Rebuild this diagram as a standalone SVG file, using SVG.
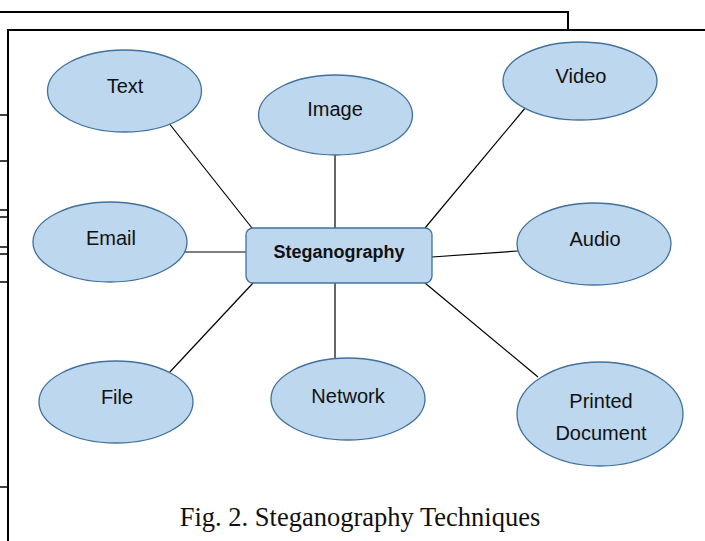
<svg xmlns="http://www.w3.org/2000/svg" width="705" height="541" viewBox="0 0 705 541">
<style>
.node{fill:#bdd7ee;stroke:#41719c;stroke-width:1.3}
.lbl{font-family:"Liberation Sans",Arial,sans-serif;font-size:20px;fill:#111;text-anchor:middle}
.conn line{stroke:#000;stroke-width:1.2}
.frame{stroke:#000;stroke-width:2;fill:none}
</style>
<rect width="705" height="541" fill="#fff"/>
<g id="background">
<path class="frame" d="M0 12H568V30"/>
<path class="frame" d="M8 541V30H705"/>
<g stroke="#000" stroke-width="1.5">
<line x1="0" y1="115" x2="8" y2="115"/>
<line x1="0" y1="161" x2="8" y2="161"/>
<line x1="0" y1="210" x2="8" y2="210"/>
<line x1="0" y1="217" x2="8" y2="217"/>
<line x1="0" y1="247" x2="8" y2="247"/>
<line x1="0" y1="254" x2="8" y2="254"/>
<line x1="0" y1="282" x2="8" y2="282"/>
<line x1="0" y1="487" x2="8" y2="487"/>
</g>
</g>
<g id="connectors" class="conn">
<line x1="168" y1="122" x2="252" y2="228"/>
<line x1="335" y1="155" x2="335" y2="228"/>
<line x1="526" y1="107" x2="425" y2="228"/>
<line x1="185" y1="252" x2="246" y2="252"/>
<line x1="432" y1="257" x2="518" y2="251"/>
<line x1="168" y1="374" x2="253" y2="283"/>
<line x1="335" y1="283" x2="335" y2="358"/>
<line x1="425" y1="283" x2="538" y2="377"/>
</g>
<g id="steganography">
<rect class="node" x="246" y="228" width="186" height="55" rx="7"/>
<text x="339" y="258" font-family="Liberation Sans,Arial,sans-serif" font-size="18" font-weight="bold" text-anchor="middle" fill="#111">Steganography</text>
</g>
<g id="text"><ellipse class="node" cx="124.5" cy="91" rx="77" ry="41"/><text class="lbl" x="125" y="93">Text</text></g>
<g id="image"><ellipse class="node" cx="335.5" cy="115" rx="77" ry="40"/><text class="lbl" x="335" y="116">Image</text></g>
<g id="video"><ellipse class="node" cx="580" cy="81" rx="77" ry="39"/><text class="lbl" x="581" y="83">Video</text></g>
<g id="email"><ellipse class="node" cx="110" cy="242" rx="77" ry="40"/><text class="lbl" x="111" y="245">Email</text></g>
<g id="audio"><ellipse class="node" cx="594" cy="244" rx="77" ry="41"/><text class="lbl" x="595" y="246">Audio</text></g>
<g id="file"><ellipse class="node" cx="116" cy="402" rx="77" ry="41"/><text class="lbl" x="117" y="404">File</text></g>
<g id="network"><ellipse class="node" cx="348" cy="399" rx="77" ry="41"/><text class="lbl" x="348" y="403">Network</text></g>
<g id="printed-document"><ellipse class="node" cx="600" cy="414" rx="83" ry="52"/><text class="lbl" x="601" y="408">Printed</text><text class="lbl" x="601" y="440">Document</text></g>
<text x="360" y="526" font-family="Liberation Serif,Times New Roman,serif" font-size="26.5" text-anchor="middle" fill="#111">Fig. 2. Steganography Techniques</text>
</svg>
